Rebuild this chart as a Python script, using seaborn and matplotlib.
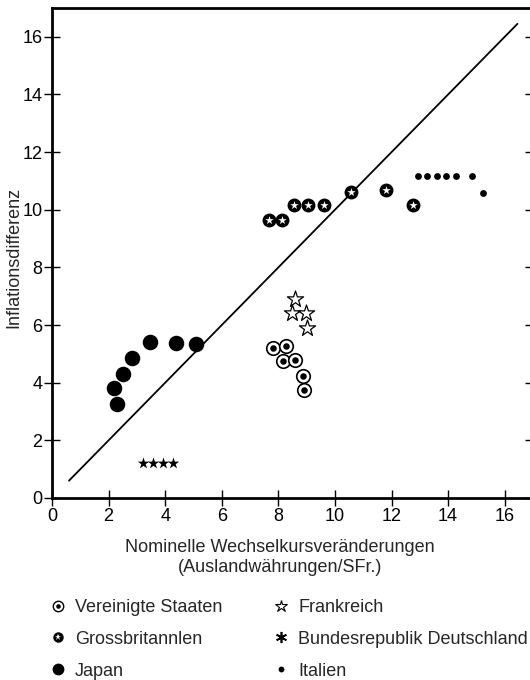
import matplotlib
matplotlib.use("Agg")
import matplotlib.pyplot as plt
import seaborn as sns
import pandas as pd
from matplotlib.lines import Line2D

sns.set_theme(style="ticks")
plt.rcParams['font.family'] = ['Liberation Sans', 'DejaVu Sans']

# ---- data ----
usa_x = [7.82, 8.26, 8.15, 8.59, 8.88, 8.90]
usa_y = [5.22, 5.28, 4.77, 4.78, 4.22, 3.76]

uk_x = [7.67, 8.14, 8.56, 9.06, 9.62, 10.55, 11.79, 12.77]
uk_y = [9.63, 9.63, 10.18, 10.18, 10.18, 10.61, 10.69, 10.15]

japan_x = [2.20, 2.28, 2.52, 2.84, 3.46, 4.40, 5.08]
japan_y = [3.83, 3.26, 4.30, 4.84, 5.42, 5.39, 5.34]

france_x = [8.59, 8.49, 8.96, 9.00]
france_y = [6.90, 6.41, 6.41, 5.91]

germany_x = [3.23, 3.58, 3.93, 4.29]
germany_y = [1.20, 1.20, 1.20, 1.20]

italy_x = [12.95, 13.27, 13.60, 13.94, 14.27, 14.83, 15.24]
italy_y = [11.16, 11.16, 11.16, 11.16, 11.16, 11.18, 10.58]

line_x = [0.6, 16.45]
line_y = [0.6, 16.45]

x_ticks = [0, 2, 4, 6, 8, 10, 12, 14, 16]
y_ticks = [0, 2, 4, 6, 8, 10, 12, 14, 16]

labels = ["Vereinigte Staaten", "Grossbritannlen", "Japan",
          "Frankreich", "Bundesrepublik Deutschland", "Italien"]

xlabel = "Nominelle Wechselkursveränderungen\n(Auslandwährungen/SFr.)"
ylabel = "Inflationsdifferenz"

# ---- figure ----
W, H = 530, 680
FS = 13
fig = plt.figure(figsize=(W / 100, H / 100), dpi=100)
ax = fig.add_axes([52 / W, (H - 498) / H, 481 / W, 490 / H])

k = "black"
sns.lineplot(x=line_x, y=line_y, ax=ax, color=k, lw=1.3)

df = lambda xs, ys: pd.DataFrame({"x": xs, "y": ys})

# USA: ring with dot
sns.scatterplot(data=df(usa_x, usa_y), x="x", y="y", ax=ax, marker="o",
                s=95, facecolor="white", edgecolor=k, linewidth=1.2, zorder=3)
sns.scatterplot(data=df(usa_x, usa_y), x="x", y="y", ax=ax, marker="o",
                s=22, color=k, edgecolor=k, linewidth=0, zorder=4)
# UK: black disc with white star
sns.scatterplot(data=df(uk_x, uk_y), x="x", y="y", ax=ax, marker="o",
                s=100, color=k, edgecolor=k, linewidth=0, zorder=3)
sns.scatterplot(data=df(uk_x, uk_y), x="x", y="y", ax=ax, marker="*",
                s=40, color="white", edgecolor="white", linewidth=0, zorder=4)
# Japan: big black discs
sns.scatterplot(data=df(japan_x, japan_y), x="x", y="y", ax=ax, marker="o",
                s=125, color=k, edgecolor=k, linewidth=0, zorder=3)
# France: open stars
sns.scatterplot(data=df(france_x, france_y), x="x", y="y", ax=ax, marker="*",
                s=150, facecolor="white", edgecolor=k, linewidth=0.9, zorder=3)
# Germany: small black stars
sns.scatterplot(data=df(germany_x, germany_y), x="x", y="y", ax=ax, marker="*",
                s=75, color=k, edgecolor=k, linewidth=0, zorder=3)
# Italy: small dots
sns.scatterplot(data=df(italy_x, italy_y), x="x", y="y", ax=ax, marker="o",
                s=24, color=k, edgecolor=k, linewidth=0, zorder=3)

ax.set_xlim(0, 17)
ax.set_ylim(0, 17)
ax.set_xticks(x_ticks)
ax.set_yticks(y_ticks)
ax.tick_params(axis="both", direction="inout", length=12, width=1.0,
               labelsize=FS, colors=k, pad=1)
ax.tick_params(axis="y", right=True, labelright=False)
for sp in ["left", "bottom", "top"]:
    ax.spines[sp].set_linewidth(2.0)
    ax.spines[sp].set_color(k)
ax.spines["right"].set_visible(False)

ax.set_xlabel(xlabel, fontsize=FS, linespacing=1.2)
ax.xaxis.set_label_coords(0.474, -0.084)
ax.set_ylabel(ylabel, fontsize=FS)
ax.yaxis.set_label_coords(-0.062, 0.49)

# ---- legend ----
def mk(marker, ms, fc, ec, mew=0):
    return Line2D([], [], ls="", marker=marker, ms=ms, mfc=fc, mec=ec, mew=mew)

handles = [
    (mk("o", 7.5, "white", k, 1.0), mk("o", 3.3, k, k)),
    (mk("o", 7.5, k, k), mk("*", 4.5, "white", "white")),
    mk("o", 8.5, k, k),
    mk("*", 9, "white", k, 0.8),
    mk((6, 2, 0), 8, k, k, 1.2),
    mk("o", 4.2, k, k),
]
fig.legend(handles, labels, ncol=2, loc="upper left",
           bbox_to_anchor=(49 / W, 1 - 599 / H), frameon=False,
           fontsize=FS, handlelength=1.0, handletextpad=0.45,
           columnspacing=2.73, labelspacing=0.82, borderaxespad=0,
           borderpad=0)

fig.savefig("out.png", dpi=100)
